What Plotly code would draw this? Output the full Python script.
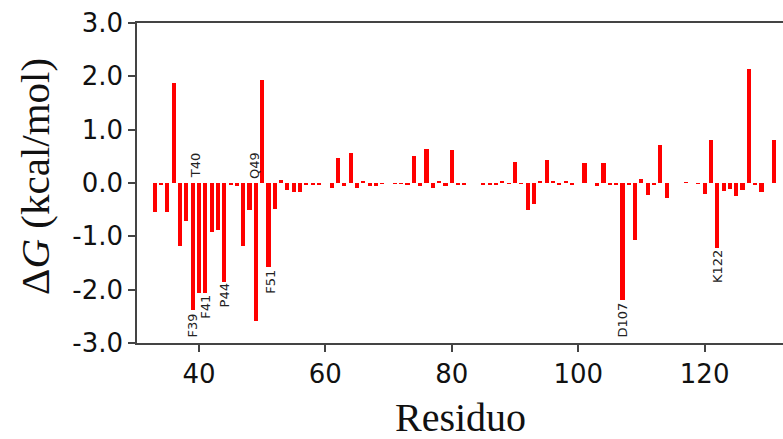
import plotly.graph_objects as go

residues = [33, 34, 35, 36, 37, 38, 39, 40, 41, 42, 43, 44, 45, 46, 47, 48, 49, 50, 51, 52,
            53, 54, 55, 56, 57, 58, 59, 61, 62, 63, 64, 65, 66, 67, 68, 69, 71, 72, 73, 74,
            75, 76, 77, 78, 79, 80, 81, 82, 85, 86, 87, 88, 89, 90, 91, 92, 93, 94, 95, 96,
            97, 98, 99, 101, 103, 104, 105, 106, 107, 108, 109, 110, 111, 112, 113, 114, 117,
            119, 120, 121, 122, 123, 124, 125, 126, 127, 128, 129, 131]
dG = [-0.55, -0.02, -0.55, 1.88, -1.18, -0.71, -2.39, -2.07, -2.07, -0.91, -0.88, -1.85, -0.03,
      -0.05, -1.19, -0.50, -2.58, 1.93, -1.57, -0.48,
      0.05, -0.14, -0.17, -0.16, -0.02, -0.02, -0.02, -0.10, 0.46, -0.05, 0.57, -0.10, 0.04,
      -0.05, -0.05, -0.01, -0.01, -0.01, -0.03, 0.50,
      -0.05, 0.63, -0.10, 0.04, -0.05, 0.61, -0.02, -0.03, -0.02, -0.02, -0.03, 0.02, -0.01,
      0.40, -0.01, -0.51, -0.40, 0.02, 0.44, 0.04,
      -0.03, 0.03, -0.02, 0.37, -0.05, 0.38, -0.02, -0.03, -2.20, -0.03, -1.06, 0.07, -0.22,
      -0.02, 0.72, -0.29, 0.01,
      -0.01, -0.21, 0.80, -1.21, -0.15, -0.12, -0.24, -0.14, 2.14, -0.03, -0.17, 0.80]

label_text = ["F39", "T40", "F41", "P44", "Q49", "F51", "D107", "K122"]
label_x = [39.0, 39.5, 41.1, 44.1, 48.8, 51.4, 107.0, 122.0]
label_y = [-2.68, 0.33, -2.32, -2.11, 0.33, -1.85, -2.57, -1.57]

y_ticks = [-3, -2, -1, 0, 1, 2, 3]
y_ticktext = ["-3.0", "-2.0", "-1.0", "0.0", "1.0", "2.0", "3.0"]
x_ticks = [40, 60, 80, 100, 120]

fig = go.Figure()
fig.add_trace(go.Bar(x=residues, y=dG, width=0.65, marker=dict(color="#ff0000", line=dict(width=0)),
                     showlegend=False))

for t, x, y in zip(label_text, label_x, label_y):
    fig.add_annotation(x=x, y=y, text=t, textangle=-90, showarrow=False,
                       xanchor="center", yanchor="middle",
                       font=dict(family="DejaVu Sans", size=13, color="#222222"))

fig.add_annotation(xref="paper", yref="paper", x=-0.159, y=0.52, text="Δ<i>G</i> (kcal/mol)",
                   textangle=-90, showarrow=False, xanchor="center", yanchor="middle",
                   font=dict(family="Liberation Serif", size=41, color="#111111"))
fig.add_annotation(xref="paper", yref="paper", x=0.5, y=-0.232, text="Residuo",
                   showarrow=False, xanchor="center", yanchor="middle",
                   font=dict(family="Liberation Serif", size=40, color="#111111"))

axis_font = dict(family="DejaVu Sans", size=26, color="#111111")
fig.update_layout(
    width=783, height=439,
    margin=dict(l=137, r=0, t=23, b=96),
    paper_bgcolor="white", plot_bgcolor="white",
    bargap=0,
    xaxis=dict(range=[30.2, 132.4], tickvals=x_ticks, ticks="outside", ticklen=7, tickwidth=1.5,
               tickcolor="#444444", showline=True, linecolor="#444444", linewidth=1.5,
               mirror=True, showgrid=False, zeroline=False, tickfont=axis_font),
    yaxis=dict(range=[-3, 3], tickvals=y_ticks, ticktext=y_ticktext, ticks="outside", ticklen=7,
               tickwidth=1.5, tickcolor="#444444", showline=True, linecolor="#444444",
               linewidth=1.5, mirror=False, showgrid=False, zeroline=False, tickfont=axis_font),
)

fig.write_html("out.html")
